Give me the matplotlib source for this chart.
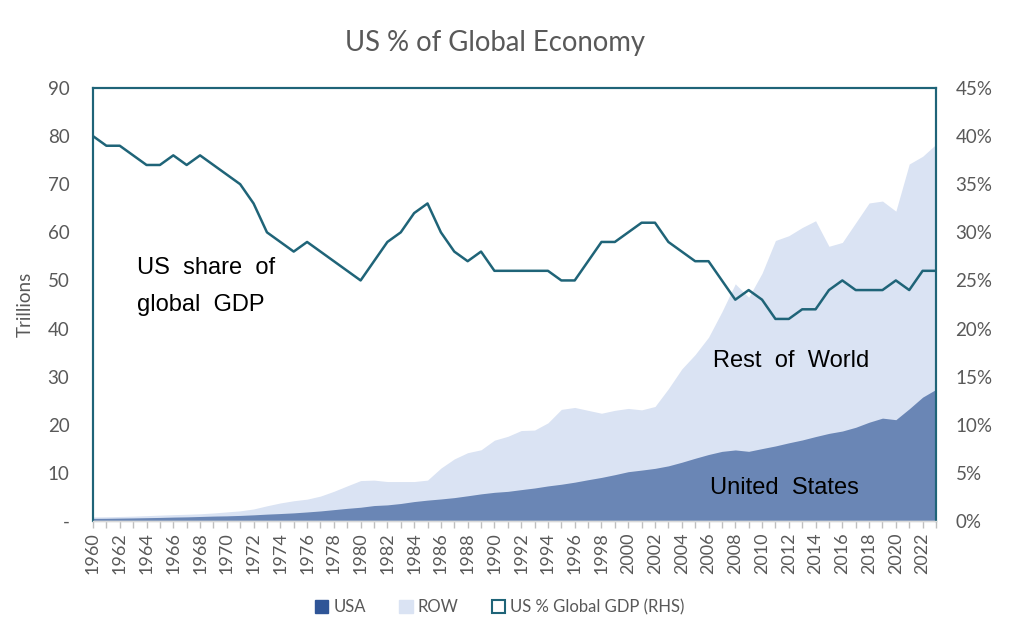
import matplotlib
matplotlib.use('Agg')
from matplotlib import pyplot as plt
from matplotlib.patches import Patch
from matplotlib.ticker import FuncFormatter

years = list(range(1960, 2024))

usa = [0.54, 0.56, 0.60, 0.64, 0.69, 0.74, 0.81, 0.86, 0.94, 1.02,
       1.07, 1.16, 1.28, 1.43, 1.55, 1.69, 1.88, 2.09, 2.36, 2.63,
       2.86, 3.21, 3.35, 3.64, 4.04, 4.34, 4.58, 4.86, 5.24, 5.64,
       5.96, 6.16, 6.52, 6.86, 7.29, 7.64, 8.07, 8.58, 9.06, 9.63,
       10.25, 10.58, 10.94, 11.46, 12.21, 13.04, 13.82, 14.47, 14.77, 14.48,
       15.05, 15.60, 16.25, 16.84, 17.55, 18.21, 18.70, 19.48, 20.53, 21.38,
       21.06, 23.32, 25.74, 27.36]

row = [0.84, 0.88, 0.94, 1.01, 1.11, 1.22, 1.32, 1.40, 1.50, 1.67,
       1.89, 2.11, 2.50, 3.16, 3.75, 4.21, 4.54, 5.18, 6.17, 7.30,
       8.4, 8.5, 8.2, 8.2, 8.2, 8.5, 11.0, 12.9, 14.2, 14.8,
       16.8, 17.6, 18.8, 18.9, 20.4, 23.2, 23.6, 23.0, 22.4, 23.0,
       23.4, 23.1, 23.8, 27.5, 31.6, 34.6, 38.2, 43.5, 49.3, 46.5,
       51.5, 58.3, 59.3, 61.0, 62.4, 57.1, 57.9, 62.0, 66.1, 66.5,
       64.4, 74.2, 75.8, 78.3]

us_share = [40, 39, 39, 38, 37, 37, 38, 37, 38, 37,
            36, 35, 33, 30, 29, 28, 29, 28, 27, 26,
            25, 27, 29, 30, 32, 33, 30, 28, 27, 28,
            26, 26, 26, 26, 26, 25, 25, 27, 29, 29,
            30, 31, 31, 29, 28, 27, 27, 25, 23, 24,
            23, 21, 21, 22, 22, 24, 25, 24, 24, 24,
            25, 24, 26, 26]

teal = '#1f6478'
grey = '#595959'
usa_col = '#6a86b5'
usa_legend = '#2f5597'
row_col = '#dae3f3'

plt.rcParams['font.family'] = ['Lato', 'DejaVu Sans']

fig = plt.figure(figsize=(10.24, 6.3), dpi=100)
ax = fig.add_axes([93 / 1024, 1 - 521 / 630, (936 - 93) / 1024, (521 - 88) / 630])

ax.fill_between(years, 0, row, color=row_col, linewidth=0)
ax.fill_between(years, 0, usa, color=usa_col, linewidth=0)
ax.set_xlim(1960, 2023)
ax.set_ylim(0, 90)
ax.set_yticks(range(0, 91, 10))
ax.yaxis.set_major_formatter(FuncFormatter(lambda v, p: '-' if v == 0 else '%d' % v))
ax.set_xticks(range(1960, 2024, 2))
ax.set_xticks(range(1960, 2024), minor=True)
ax.tick_params(axis='x', which='both', rotation=90, colors='#bfbfbf', labelcolor=grey,
               labelsize=13, length=5, width=1, pad=3)
ax.tick_params(axis='y', length=0, labelsize=13.5, labelcolor=grey, pad=17)
ax.set_ylabel('Trillions', fontsize=13.5, color=grey, labelpad=10)

ax2 = ax.twinx()
ax2.plot(years, us_share, color=teal, linewidth=1.8)
ax2.set_ylim(0, 45)
ax2.set_yticks(range(0, 46, 5))
ax2.yaxis.set_major_formatter(FuncFormatter(lambda v, p: '%d%%' % v))
ax2.tick_params(axis='y', length=0, labelsize=13.5, labelcolor=grey, pad=14)

for a in (ax, ax2):
    for s in ('left', 'top', 'right'):
        a.spines[s].set_color(teal)
        a.spines[s].set_linewidth(1.5)
    a.spines['bottom'].set_color('#d9d9d9')
    a.spines['bottom'].set_linewidth(1)

kw = dict(fontsize=17, family='Liberation Sans', va='center')
ax.text(1963.3, 52.6, 'US  share  of', **kw)
ax.text(1963.3, 45.0, 'global  GDP', **kw)
ax.text(2006.3, 33.3, 'Rest  of  World', **kw)
ax.text(2006.1, 6.9, 'United  States', **kw)

fig.text(0.483, 1 - 43 / 630, 'US % of Global Economy', ha='center', va='center',
         fontsize=19.8, color=grey)

handles = [Patch(facecolor=usa_legend, edgecolor=usa_legend),
           Patch(facecolor=row_col, edgecolor=row_col),
           Patch(facecolor='white', edgecolor=teal, linewidth=1.5)]
fig.legend(handles, ['USA', 'ROW', 'US % Global GDP (RHS)'], loc='center',
           bbox_to_anchor=(0.488, 1 - 607 / 630), ncol=3, frameon=False,
           fontsize=12, labelcolor=grey, handlelength=0.8, handleheight=0.8,
           handletextpad=0.3, columnspacing=2.0)

fig.savefig('out.png', dpi=100)
